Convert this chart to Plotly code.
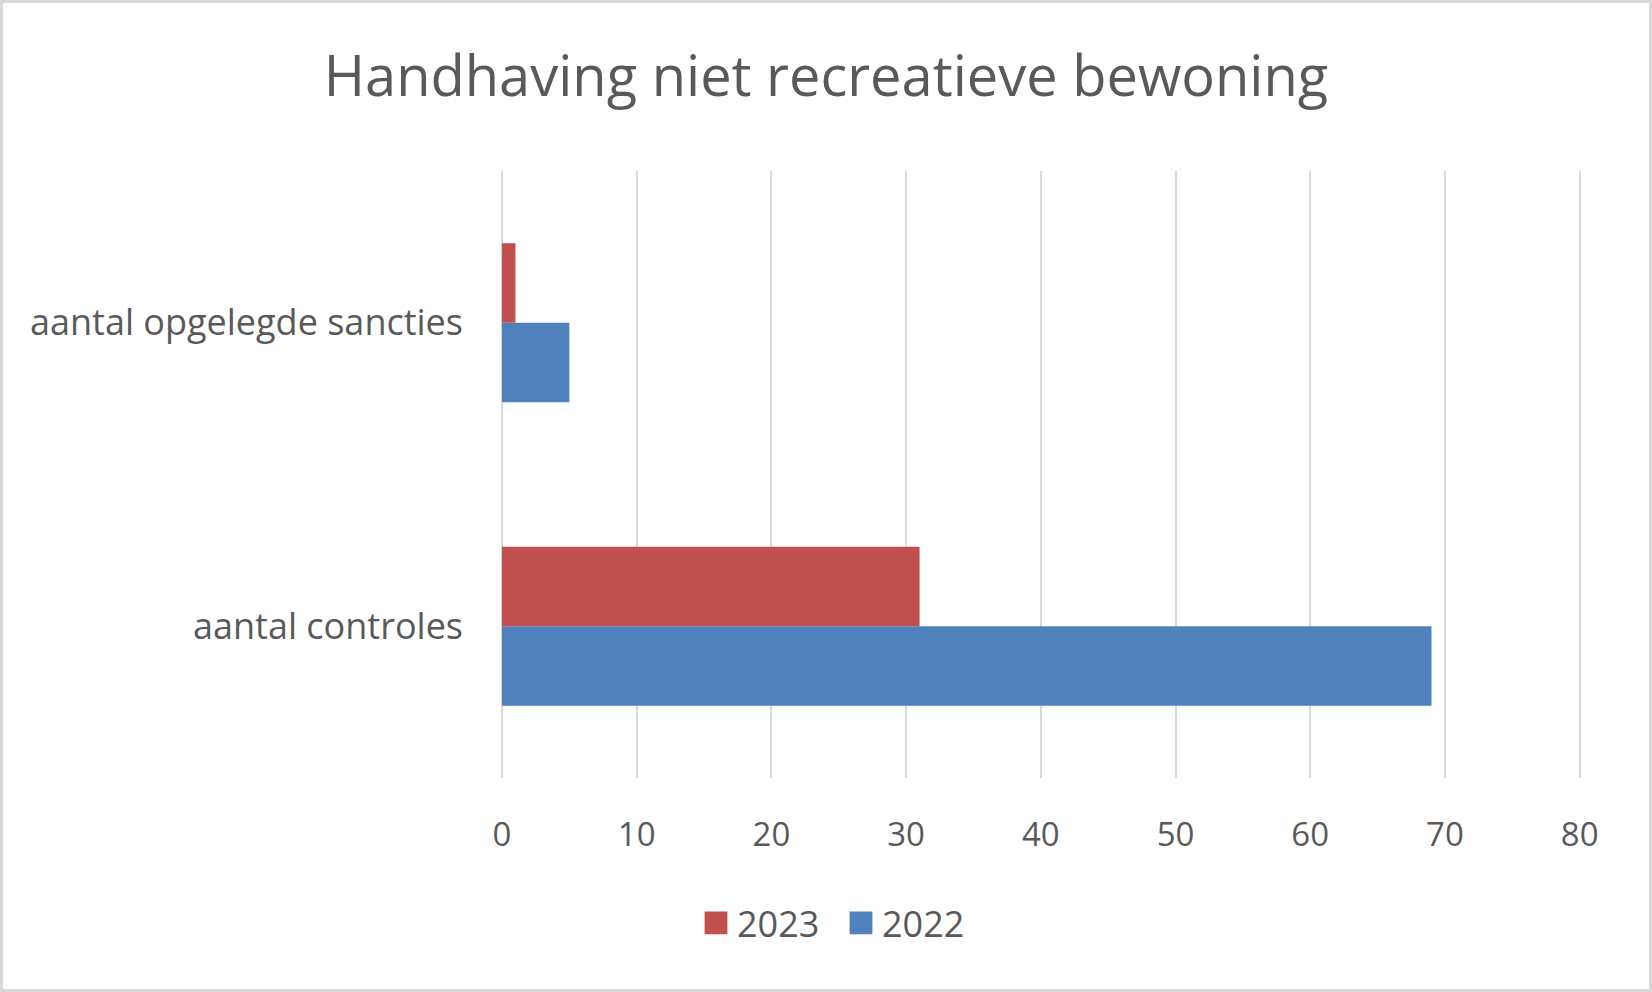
import plotly.graph_objects as go

categories = ["aantal controles", "aantal opgelegde sancties"]
values_2022 = [69, 5]
values_2023 = [31, 1]
x_ticks = [0, 10, 20, 30, 40, 50, 60, 70, 80]

W, H = 1652, 992
L, R, T, B = 502, 71, 171, 214
pw, ph = W - L - R, H - T - B

TEXT = "#595959"
GRID = "#D9D9D9"
FONT = "Open Sans"

fig = go.Figure()
fig.add_trace(go.Bar(y=categories, x=values_2022, name="2022", orientation="h",
                     marker=dict(color="#4F81BD", line=dict(width=0))))
fig.add_trace(go.Bar(y=categories, x=values_2023, name="2023", orientation="h",
                     marker=dict(color="#C0504D", line=dict(width=0))))

def px_to_paper_x(px):
    return (px - L) / pw

def px_to_paper_y(py):
    return (H - B - py) / ph

fig.update_layout(
    width=W, height=H,
    margin=dict(l=L, r=R, t=T, b=B, autoexpand=False),
    paper_bgcolor="white", plot_bgcolor="white",
    barmode="group", bargap=0.476, bargroupgap=0,
    font=dict(family=FONT, color=TEXT),
    title=dict(text="Handhaving niet recreatieve bewoning",
               font=dict(family=FONT, size=56, color=TEXT),
               x=0.5, xanchor="center", y=1 - 76 / H, yanchor="middle",
               xref="container", yref="container"),
    xaxis=dict(range=[0, 80.1], tickvals=x_ticks, showgrid=True, gridcolor=GRID,
               gridwidth=2, zeroline=True, zerolinecolor=GRID, zerolinewidth=2,
               showline=False, ticks="", tickfont=dict(family=FONT, size=33, color=TEXT),
               ticklabelstandoff=34, fixedrange=True),
    yaxis=dict(categoryorder="array", categoryarray=categories, showgrid=False,
               zeroline=False, showline=False, ticks="",
               tickfont=dict(family=FONT, size=36, color=TEXT),
               ticklabelstandoff=38, fixedrange=True),
    legend=dict(orientation="h", traceorder="reversed",
                xref="container", yref="container",
                x=842 / W, xanchor="center", y=1 - 923 / H, yanchor="middle",
                font=dict(family=FONT, size=36, color=TEXT),
                itemwidth=30, entrywidth=100, entrywidthmode="pixels"),
    shapes=[dict(type="rect", xref="paper", yref="paper",
                 x0=px_to_paper_x(1.5), x1=px_to_paper_x(W - 1.5),
                 y0=px_to_paper_y(H - 1.5), y1=px_to_paper_y(1.5),
                 line=dict(color=GRID, width=3), fillcolor="rgba(0,0,0,0)",
                 layer="below")],
)

post = """
document.body.style.margin='0';
document.body.style.overflow='hidden';
document.querySelectorAll('.legend .legendpoints path').forEach(function(p){
  var t = p.getAttribute('transform') || '';
  p.setAttribute('transform', t + ' translate(-1,0) scale(1.9)');
});
"""

fig.write_html("out.html", config={"displayModeBar": False}, post_script=post)
